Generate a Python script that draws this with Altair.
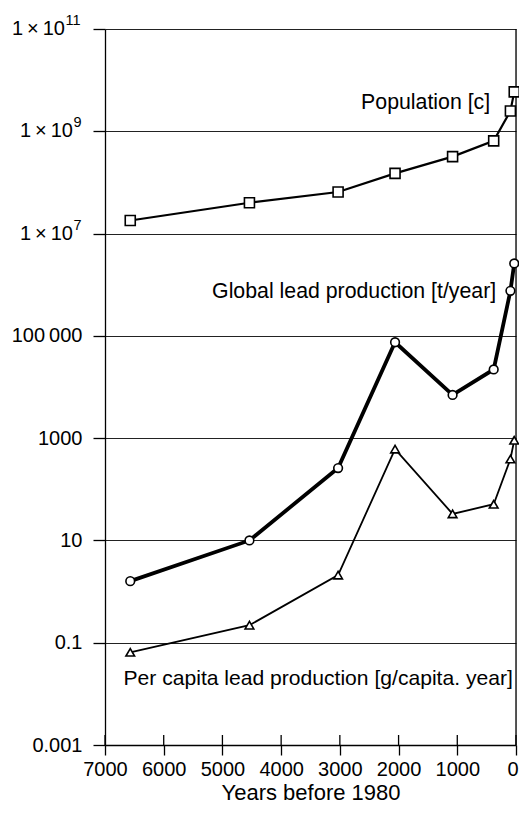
import altair as alt
import pandas as pd

# ---- data ----
years = [6570, 4540, 3030, 2060, 1080, 380, 95, 30]
population = [1.8e7, 4.0e7, 6.5e7, 1.5e8, 3.2e8, 6.5e8, 2.5e9, 5.9e9]
lead_production = [1.6, 10, 260, 75000, 7000, 22000, 7.6e5, 2.6e6]
per_capita = [0.065, 0.22, 2.1, 610, 33, 51, 390, 910]

x_ticks = [0, 1000, 2000, 3000, 4000, 5000, 6000, 7000]
y_ticks = [1e-3, 1e-1, 1e1, 1e3, 1e5, 1e7, 1e9, 1e11]
y_exponents = [-3, -1, 1, 3, 5]
y_tick_labels = ["0.001", "0.1", "10", "1000", "100\u2009000"]
# large tick labels drawn as "1 × 10" + superscript exponent
sci_values = [1e7, 1e9, 1e11]
sci_base = ["1\u2009×\u200910", "1\u2009×\u200910", "1\u2009×\u200910"]
sci_exp = ["7", "9", "11"]

label_pop = "Population [c]"
label_lead = "Global lead production [t/year]"
label_pc = "Per capita lead production [g/capita. year]"

FONT = "Liberation Sans"
W, H = 411, 716

xscale = alt.Scale(domain=[0, 7000], reverse=True, nice=False, zero=False)
yscale = alt.Scale(type="log", domain=[1e-3, 1e11], nice=False)

expr = "'' "
for e, lab in zip(y_exponents, y_tick_labels):
    expr = f"round(log(datum.value)/LN10) == {e} ? '{lab}' : " + expr

df = pd.DataFrame({
    "year": years * 3,
    "value": population + lead_production + per_capita,
    "series": ["pop"] * 8 + ["lead"] * 8 + ["pc"] * 8,
})

xenc = alt.X("year:Q", scale=xscale,
             axis=alt.Axis(values=x_ticks, title="Years before 1980", format="d",
                           grid=False, tickSize=10, labelPadding=4,
                           titlePadding=3, labelFontSize=20, titleFontSize=22,
                           labelFont=FONT, titleFont=FONT, labelColor="#000",
                           titleColor="#000", titleFontWeight="normal",
                           domainColor="#000", tickColor="#000",
                           domainWidth=1.3, tickWidth=1.3, labelFlush=False,
                           labelAlign=alt.ExprRef("datum.value == 0 ? 'right' : 'center'"),
                           labelOffset=alt.ExprRef("datum.value == 0 ? 2 : 0")))
yenc = alt.Y("value:Q", scale=yscale,
             axis=alt.Axis(values=y_ticks, title=None, labelExpr=expr,
                           grid=True, gridColor="#222", gridWidth=1.2,
                           tickSize=12, labelPadding=11, labelFontSize=20,
                           labelFont=FONT, labelColor="#000",
                           domainColor="#000", tickColor="#000",
                           domainWidth=1.3, tickWidth=1.3))

base = alt.Chart(df)

styles = {
    "pop": ("square", 2.2, 100),
    "lead": ("circle", 3.8, 75),
    "pc": ("triangle-up", 1.8, 75),
}

layers = []
for s, (shape, lw, size) in styles.items():
    sub = base.transform_filter(alt.datum.series == s)
    layers.append(sub.mark_line(color="#000", strokeWidth=lw).encode(x=xenc, y=yenc))

# right frame edge
frame = alt.Chart(pd.DataFrame({"t": [0]})).mark_rule(color="#000", strokeWidth=1.3).encode(
    x=alt.X("t:Q", scale=xscale), y=alt.value(0), y2=alt.value(H))

for s, (shape, lw, size) in styles.items():
    sub = base.transform_filter(alt.datum.series == s)
    layers.append(sub.mark_point(shape=shape, size=size, filled=True, fill="#fff",
                                 stroke="#000", strokeWidth=1.6, opacity=1)
                  .encode(x=xenc, y=yenc))

# inner half of the x ticks (they cross the axis line)
tick_df = pd.DataFrame({"t": x_ticks})
inner_ticks = alt.Chart(tick_df).mark_rule(color="#000", strokeWidth=1.3).encode(
    x=alt.X("t:Q", scale=xscale), y=alt.value(H), y2=alt.value(H - 10))

# scientific tick labels
sci_df = pd.DataFrame({"v": sci_values, "b": sci_base, "e": sci_exp})
sci_layers = []
for cond, expw in [("length(datum.e) == 1", 9), ("length(datum.e) == 2", 17)]:
    sub = alt.Chart(sci_df).transform_filter(cond)
    sci_layers.append(sub.mark_text(align="right", baseline="middle", font=FONT,
                                    fontSize=20, color="#000").encode(
        x=alt.value(-23 - expw), y=alt.Y("v:Q", scale=yscale), text="b:N"))
    sci_layers.append(sub.mark_text(align="left", baseline="middle", font=FONT,
                                    fontSize=14.5, color="#000", dy=-8).encode(
        x=alt.value(-23 - expw + 0.5), y=alt.Y("v:Q", scale=yscale), text="e:N"))

ann_right = pd.DataFrame({"text": [label_pop, label_lead],
                          "x": [440, 337], "y": [3.6e9, 7.2e5]})
ann_left = pd.DataFrame({"text": [label_pc], "x": [6685], "y": [0.0195]})
t_right = alt.Chart(ann_right).mark_text(align="right", baseline="middle", font=FONT,
                                         fontSize=21.3, color="#000").encode(
    x=alt.X("x:Q", scale=xscale), y=alt.Y("y:Q", scale=yscale), text="text:N")
t_left = alt.Chart(ann_left).mark_text(align="left", baseline="middle", font=FONT,
                                       fontSize=21.1, color="#000").encode(
    x=alt.X("x:Q", scale=xscale), y=alt.Y("y:Q", scale=yscale), text="text:N")

chart = alt.layer(frame, *layers, inner_ticks, *sci_layers, t_right, t_left).properties(
    width=W, height=H,
    autosize=alt.AutoSizeParams(type="none"),
    padding={"left": 97, "top": 21, "right": 3, "bottom": 58},
).configure_view(stroke="#000", strokeWidth=1.3).configure(background="#fff")

chart.save("out.html", embed_options={"renderer": "svg", "actions": False})
